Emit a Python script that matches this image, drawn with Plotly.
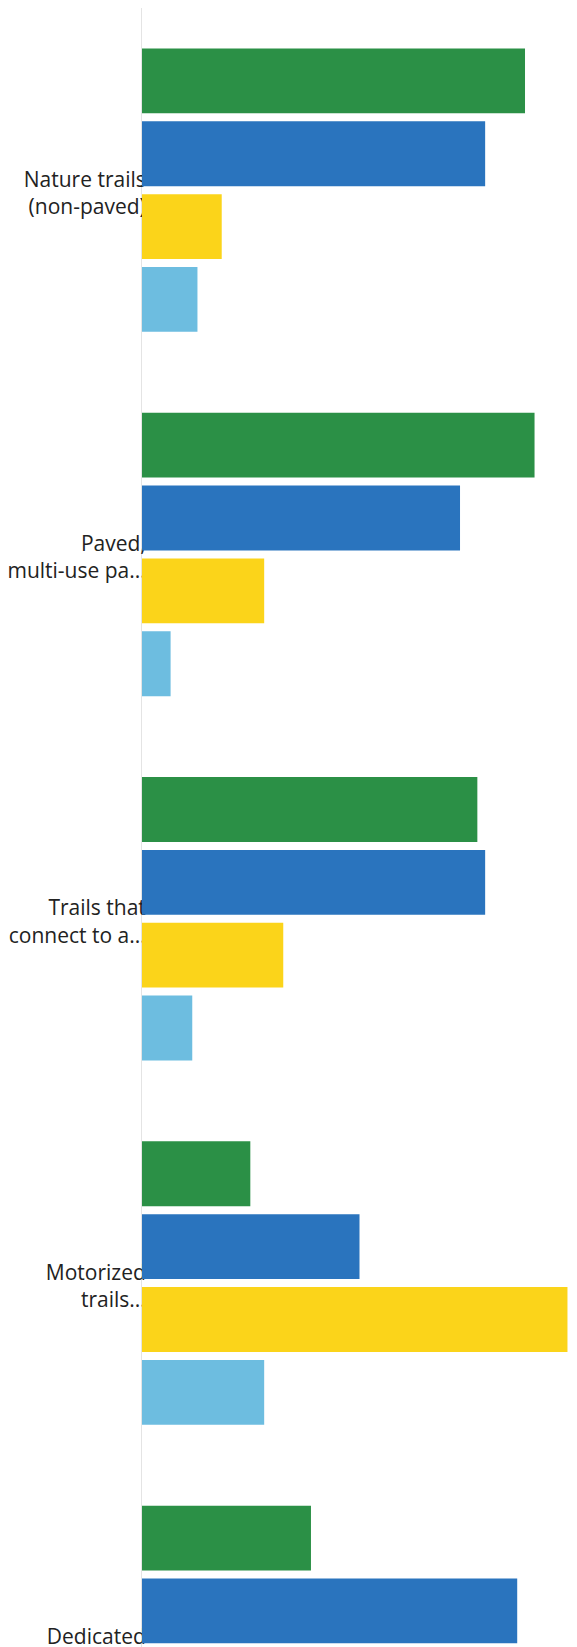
import plotly.graph_objects as go

# ---- data (percent of respondents per answer option) ----
categories = [
    "Nature trails<br>(non-paved)",
    "Paved,<br>multi-use pa...",
    "Trails that<br>connect to a...",
    "Motorized<br>trails...",
    "Dedicated<br>mountain bi...",
]
series_names = ["Very important", "Important", "Somewhat important", "Not important"]
green_vals = [44.2, 45.3, 38.7, 12.5, 19.5]
blue_vals = [39.6, 36.7, 39.6, 25.1, 43.3]
yellow_vals = [9.2, 14.1, 16.3, 49.1, 27.0]
lightblue_vals = [6.4, 3.3, 5.8, 14.1, 10.2]

colors = ["#2b9046", "#2a74be", "#fbd41a", "#6dbde0"]

fig = go.Figure()
for name, vals, col in zip(series_names,
                           [green_vals, blue_vals, yellow_vals, lightblue_vals],
                           colors):
    fig.add_trace(go.Bar(
        x=vals, y=categories, orientation="h", name=name,
        marker=dict(color=col, line=dict(width=0)),
        showlegend=False, hoverinfo="skip",
    ))

# the page body adds an 8px offset, so the figure is 8px narrower and starts 8px earlier
fig.update_layout(
    width=569, height=1647,
    margin=dict(l=134, r=0, t=0, b=0, pad=0, autoexpand=False),
    barmode="group", bargap=0.2, bargroupgap=0.11,
    paper_bgcolor="white", plot_bgcolor="white",
    font=dict(family="Open Sans", size=21, color="#222222"),
)
fig.update_xaxes(range=[0, 50.2], visible=False, fixedrange=True, automargin=False)
fig.update_yaxes(
    type="category", range=[4.021, -0.5], fixedrange=True, automargin=False,
    showline=True, linecolor="#e4e4e4", linewidth=1,
    showgrid=False, zeroline=False, ticks="",
    ticklabelstandoff=-9, ticklabelshift=-3, layer="below traces",
    tickfont=dict(family="Open Sans", size=21, color="#222222"),
)

fig.write_html("out.html")
